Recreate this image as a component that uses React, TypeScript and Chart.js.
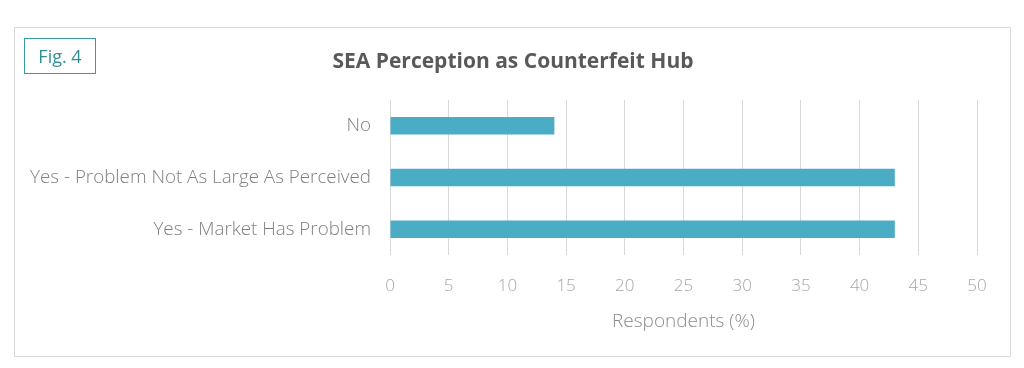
import React, { useEffect, useRef } from "react";
import { Chart, registerables } from "chart.js";

Chart.register(...registerables);

const categories = ["No", "Yes - Problem Not As Large As Perceived", "Yes - Market Has Problem"];
const values = [14, 43, 43];
const xTicks = [0, 5, 10, 15, 20, 25, 30, 35, 40, 45, 50];
const chartTitle = "SEA Perception as Counterfeit Hub";
const figLabel = "Fig. 4";
const xAxisTitle = "Respondents (%)";

const FONT = "'Open Sans', 'Noto Sans', sans-serif";

export default function App() {
  const ref = useRef<HTMLCanvasElement | null>(null);
  useEffect(() => {
    if (!ref.current) return;
    const chart = new Chart(ref.current, {
      type: "bar",
      data: {
        labels: categories,
        datasets: [
          {
            data: values,
            backgroundColor: "#4BACC6",
            borderWidth: 0,
            categoryPercentage: 0.5,
            barPercentage: 0.68,
          },
        ],
      },
      options: {
        indexAxis: "y",
        animation: false,
        responsive: false,
        maintainAspectRatio: false,
        layout: { padding: { top: 100, right: 47, left: 0, bottom: 0 } },
        plugins: { legend: { display: false }, tooltip: { enabled: false }, title: { display: false } },
        scales: {
          x: {
            min: 0,
            max: 50,
            afterBuildTicks: (s: any) => {
              s.ticks = xTicks.map((v) => ({ value: v }));
            },
            afterFit: (s: any) => {
              s.height = 113;
            },
            grid: { color: "#d9d9d9", drawTicks: false, lineWidth: 1 },
            border: { display: false },
            ticks: { color: "#a6a6a6", font: { family: FONT, size: 17, weight: "300" }, padding: 21 },
            title: {
              display: true,
              text: xAxisTitle,
              color: "#8c8c8c",
              font: { family: FONT, size: 19, weight: "300" },
              padding: { top: 8, bottom: 35 },
            },
          },
          y: {
            afterFit: (s: any) => {
              s.width = 390;
            },
            grid: { display: false },
            border: { display: false },
            ticks: { color: "#7f7f7f", font: { family: FONT, size: 18.8, weight: "300" }, padding: 11 },
          },
        },
      },
    });
    return () => chart.destroy();
  }, []);

  return (
    <div style={{ position: "fixed", left: 0, top: 0, width: 1024, height: 368, background: "#fff" }}>
      <div
        style={{
          position: "absolute",
          left: 14,
          top: 27,
          width: 995,
          height: 328,
          border: "1px solid #d9d9d9",
        }}
      />
      <canvas ref={ref} width={1024} height={368} style={{ position: "absolute", left: 0, top: 0 }} />
      <div
        style={{
          position: "absolute",
          left: 24,
          top: 38,
          width: 70,
          height: 34,
          border: "1px solid #3a9a9c",
          color: "#2f9093",
          fontFamily: FONT,
          fontSize: 18,
          lineHeight: "34px",
          textAlign: "center",
        }}
      >
        {figLabel}
      </div>
      <div
        style={{
          position: "absolute",
          left: 0,
          top: 46,
          width: 1026,
          textAlign: "center",
          color: "#595959",
          fontFamily: FONT,
          fontWeight: 700,
          fontSize: 21,
          lineHeight: "28px",
        }}
      >
        {chartTitle}
      </div>
    </div>
  );
}
